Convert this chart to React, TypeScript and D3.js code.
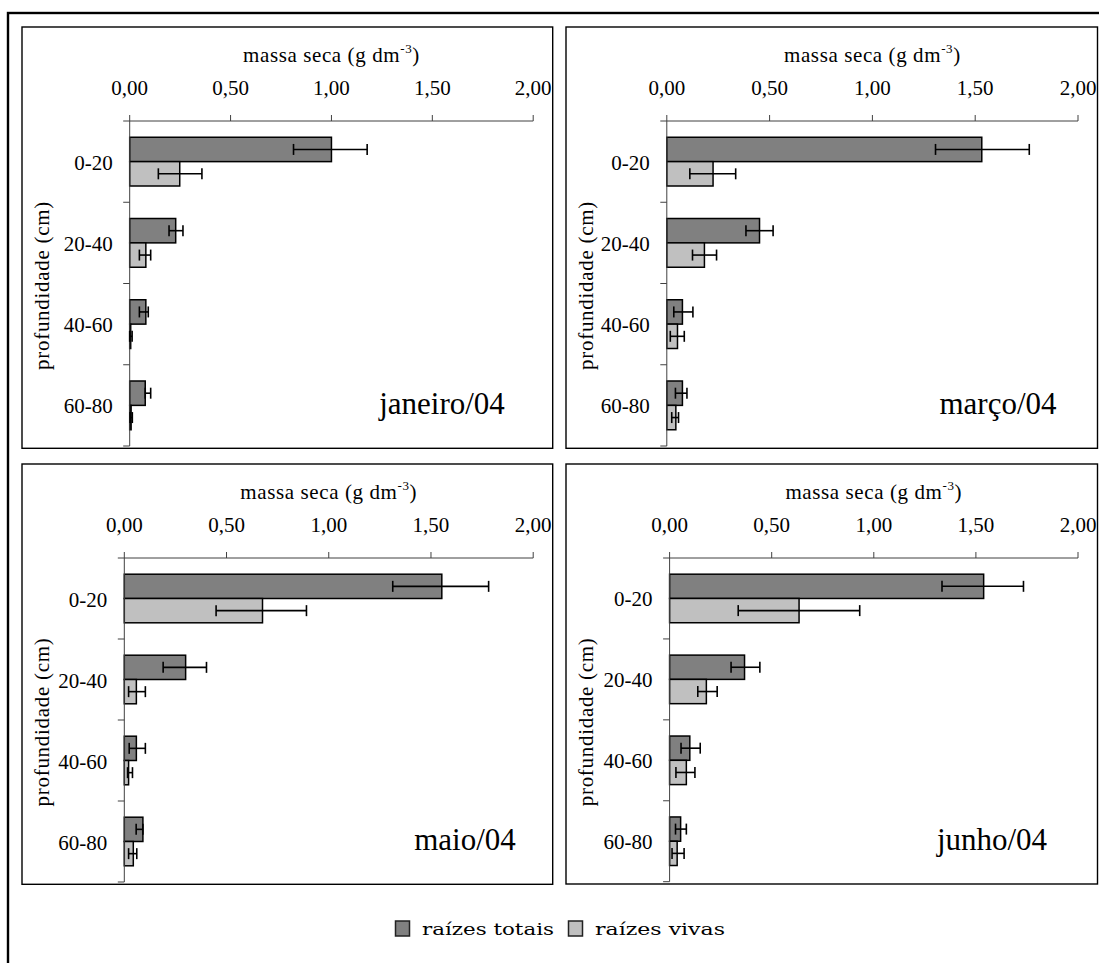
import React from "react";
import * as d3 from "d3";

// ---- data ----
const depths = ["0-20", "20-40", "40-60", "60-80"];
const months = ["janeiro/04", "março/04", "maio/04", "junho/04"];
const xTicks = [0, 0.5, 1, 1.5, 2];
const xTickLabels = ["0,00", "0,50", "1,00", "1,50", "2,00"];
const seriesNames = ["raízes totais", "raízes vivas"];

// raízes totais (per month, per depth)
const totalValues = [
  [1.0, 0.228, 0.08, 0.077],
  [1.532, 0.451, 0.076, 0.076],
  [1.553, 0.3, 0.059, 0.091],
  [1.538, 0.367, 0.099, 0.054],
];
const totalLow = [
  [0.812, 0.195, 0.048, 0.077],
  [1.307, 0.385, 0.034, 0.042],
  [1.313, 0.19, 0.024, 0.058],
  [1.334, 0.301, 0.056, 0.029],
];
const totalHigh = [
  [1.177, 0.264, 0.092, 0.104],
  [1.763, 0.517, 0.127, 0.098],
  [1.782, 0.402, 0.103, 0.091],
  [1.733, 0.442, 0.15, 0.082],
];
// raízes vivas
const liveValues = [
  [0.248, 0.08, 0.005, 0.007],
  [0.225, 0.183, 0.052, 0.044],
  [0.676, 0.059, 0.021, 0.044],
  [0.634, 0.18, 0.082, 0.037],
];
const liveLow = [
  [0.142, 0.048, 0.0, 0.002],
  [0.112, 0.125, 0.017, 0.024],
  [0.449, 0.021, 0.016, 0.021],
  [0.336, 0.138, 0.031, 0.012],
];
const liveHigh = [
  [0.358, 0.104, 0.012, 0.013],
  [0.335, 0.242, 0.085, 0.057],
  [0.891, 0.103, 0.04, 0.061],
  [0.931, 0.233, 0.124, 0.071],
];

// ---- layout ----
const W = 1099;
const H = 963;
const panels = [
  { x: 22, y: 27, w: 530.7, h: 421.3, plotLeft: 107.7, labelX: 420 },
  { x: 566, y: 27, w: 531.5, h: 421.3, plotLeft: 100.8, labelX: 432 },
  { x: 22, y: 464, w: 530.7, h: 420.3, plotLeft: 102.3, labelX: 443 },
  { x: 566, y: 464, w: 531.5, h: 420, plotLeft: 103.6, labelX: 426 },
];
const FONT = "Liberation Serif, Times New Roman, serif";
const DARK = "#808080";
const LIGHT = "#c0c0c0";
const AXIS = "#404040";

function Panel({ idx }: { idx: number }) {
  const p = panels[idx];
  const x0 = p.x + p.plotLeft;
  const x1 = p.x + p.w - 19.5;
  const top = p.y + 94;
  const bottom = p.y + p.h - 2.3;
  const x = d3.scaleLinear().domain([0, 2]).range([x0, x1]);
  const y = d3.scaleBand<string>().domain(depths).range([top, bottom]).padding(0);
  const barH = y.step() * 0.3;
  const cap = 5.5;

  const series = [
    { vals: totalValues[idx], lo: totalLow[idx], hi: totalHigh[idx], fill: DARK, off: -barH },
    { vals: liveValues[idx], lo: liveLow[idx], hi: liveHigh[idx], fill: LIGHT, off: 0 },
  ];

  const bandEdges = depths.map((d) => y(d) as number).concat([bottom]);

  return (
    <g>
      <rect x={p.x} y={p.y} width={p.w} height={p.h} fill="#fff" stroke="#000" strokeWidth={1.4} />
      {/* title */}
      <text
        x={(x0 + x1) / 2}
        y={p.y + 34.5}
        textAnchor="middle"
        style={{ fontFamily: FONT }}
        fontSize={21}
        letterSpacing={0.6}
        fill="#000"
      >
        massa seca (g dm
        <tspan fontSize={13} dy={-9}>-3</tspan>
        <tspan dy={9}>)</tspan>
      </text>
      {/* x tick labels */}
      {xTicks.map((t, i) => (
        <text
          key={"tl" + i}
          x={x(t)}
          y={p.y + 68}
          textAnchor="middle"
          style={{ fontFamily: FONT }}
          fontSize={21}
          fill="#000"
        >
          {xTickLabels[i]}
        </text>
      ))}
      {/* bars */}
      {series.map((s, si) =>
        depths.map((d, di) => {
          const cy = (y(d) as number) + y.bandwidth() / 2 + s.off;
          return (
            <rect
              key={"b" + si + di}
              x={x(0)}
              y={cy}
              width={Math.max(0, x(s.vals[di]) - x(0))}
              height={barH}
              fill={s.fill}
              stroke="#000"
              strokeWidth={1.5}
            />
          );
        })
      )}
      {/* axes */}
      <line x1={x0 - 6.5} x2={x1} y1={top} y2={top} stroke={AXIS} strokeWidth={1} />
      {xTicks.map((t, i) => (
        <line key={"xt" + i} x1={x(t)} x2={x(t)} y1={top - 6} y2={top} stroke={AXIS} strokeWidth={1} />
      ))}
      <line x1={x0} x2={x0} y1={top} y2={bottom} stroke={AXIS} strokeWidth={1} />
      {bandEdges.slice(1).map((e, i) => (
        <line key={"yt" + i} x1={x0 - 6.5} x2={x0} y1={e} y2={e} stroke={AXIS} strokeWidth={1} />
      ))}
      {/* error bars */}
      {series.map((s, si) =>
        depths.map((d, di) => {
          const cy = (y(d) as number) + y.bandwidth() / 2 + s.off + barH / 2;
          const a = x(s.lo[di]);
          const b = x(s.hi[di]);
          return (
            <g key={"e" + si + di} stroke="#000" strokeWidth={1.6}>
              <line x1={a} x2={b} y1={cy} y2={cy} />
              <line x1={a} x2={a} y1={cy - cap} y2={cy + cap} />
              <line x1={b} x2={b} y1={cy - cap} y2={cy + cap} />
            </g>
          );
        })
      )}
      {/* category labels */}
      {depths.map((d) => (
        <text
          key={"c" + d}
          x={x0 - 17}
          y={(y(d) as number) + y.bandwidth() / 2 + 8}
          textAnchor="end"
          style={{ fontFamily: FONT }}
          fontSize={21}
          fill="#000"
        >
          {d}
        </text>
      ))}
      {/* y axis title */}
      <text
        transform={`translate(${p.x + 27},${(top + bottom) / 2 + 2}) rotate(-90)`}
        textAnchor="middle"
        style={{ fontFamily: FONT }}
        fontSize={21}
        letterSpacing={0.7}
        fill="#000"
      >
        profundidade (cm)
      </text>
      {/* month label */}
      <text
        x={p.x + p.labelX}
        y={p.y + p.h - 34}
        textAnchor="middle"
        style={{ fontFamily: FONT }}
        fontSize={31}
        fill="#000"
      >
        {months[idx]}
      </text>
    </g>
  );
}

export default function App() {
  const legendFont = "DejaVu Serif, serif";
  return (
    <svg
      width={W}
      height={H}
      style={{ position: "absolute", left: 0, top: 0, background: "#fff" }}
    >
      <rect x={0} y={0} width={W} height={H} fill="#fff" />
      <rect x={8} y={13} width={W + 20} height={H + 20} fill="none" stroke="#000" strokeWidth={2.4} />
      {panels.map((_, i) => (
        <Panel key={i} idx={i} />
      ))}
      {/* legend */}
      <g>
        <rect x={395.5} y={921} width={14} height={15} fill={DARK} stroke="#222" strokeWidth={1.5} />
        <text
          x={422}
          y={935}
          style={{ fontFamily: legendFont }}
          fontSize={17}
          textLength={132}
          lengthAdjust="spacingAndGlyphs"
          fill="#000"
        >
          {seriesNames[0]}
        </text>
        <rect x={568.5} y={921} width={14} height={15} fill={LIGHT} stroke="#222" strokeWidth={1.5} />
        <text
          x={595}
          y={935}
          style={{ fontFamily: legendFont }}
          fontSize={17}
          textLength={130}
          lengthAdjust="spacingAndGlyphs"
          fill="#000"
        >
          {seriesNames[1]}
        </text>
      </g>
    </svg>
  );
}
